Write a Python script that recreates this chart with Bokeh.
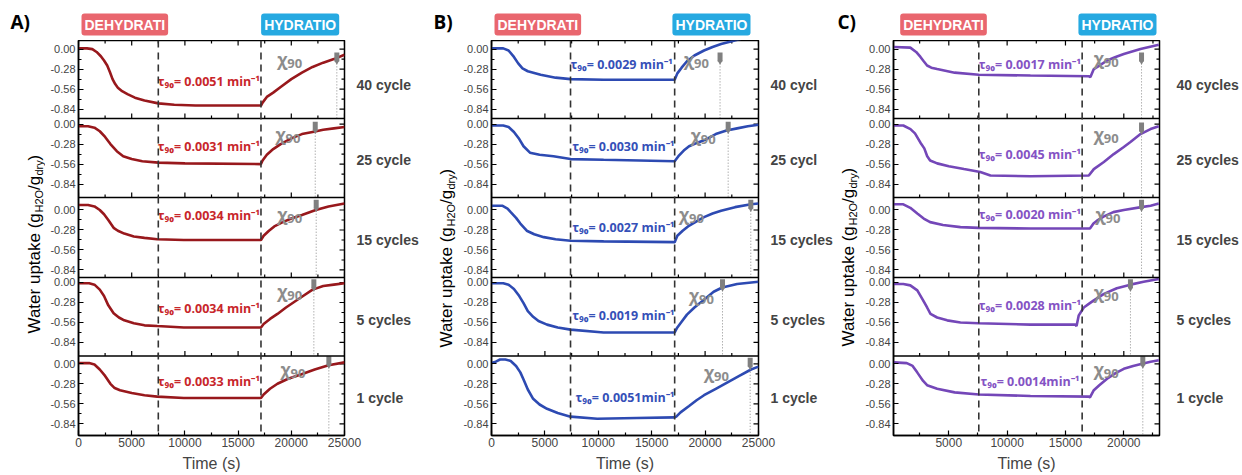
from bokeh.plotting import figure
from bokeh.layouts import row, column
from bokeh.models import Range1d, FixedTicker, LinearAxis, Span, Label
from bokeh.embed import file_html
from bokeh.resources import INLINE
from bokeh.core.properties import value

# ======================= DATA =======================
Y_TICKS = [0.00, -0.28, -0.56, -0.84]
Y_MINOR = [-0.14, -0.42, -0.70]
X_TICKS_AB = [0, 5000, 10000, 15000, 20000, 25000]
X_MINOR_AB = [2500, 7500, 12500, 17500, 22500]
X_TICKS_C = [5000, 10000, 15000, 20000]
X_MINOR_C = [2500, 7500, 12500, 17500, 22500]

CYCLES_A = ["40 cycle", "25 cycle", "15 cycles", "5 cycles", "1 cycle"]
CYCLES_B = ["40 cycl", "25 cycl", "15 cycles", "5 cycles", "1 cycle"]
CYCLES_C = ["40 cycles", "25 cycles", "15 cycles", "5 cycles", "1 cycle"]

TAU_A = ["τ₉₀= 0.0051 min⁻¹", "τ₉₀= 0.0031 min⁻¹", "τ₉₀= 0.0034 min⁻¹", "τ₉₀= 0.0034 min⁻¹", "τ₉₀= 0.0033 min⁻¹"]
TAU_B = ["τ₉₀= 0.0029 min⁻¹", "τ₉₀= 0.0030 min⁻¹", "τ₉₀= 0.0027 min⁻¹", "τ₉₀= 0.0019 min⁻¹", "τ₉₀= 0.0051min⁻¹"]
TAU_C = ["τ₉₀= 0.0017 min⁻¹", "τ₉₀= 0.0045 min⁻¹", "τ₉₀= 0.0020 min⁻¹", "τ₉₀= 0.0028 min⁻¹", "τ₉₀= 0.0014min⁻¹"]

# switch times (end of dehydration window, start of hydration), s
SWITCH_A = [7500, 17150]
SWITCH_B = [7400, 17150]
SWITCH_C = [7570, 16430]

# chi90 times (s) and uptake value at the marker tip
T90_A = [24280, 22250, 22340, 22120, 23530]
TIP_A = [-0.20, -0.12, -0.01, -0.11, -0.05]
T90_B = [21400, 22160, 24280, 21630, 24220]
TIP_B = [-0.20, -0.12, -0.01, -0.11, -0.07]
T90_C = [21520, 21520, 21520, 20570, 21630]
TIP_C = [-0.20, -0.13, -0.01, -0.11, -0.05]

# ---- Panel A curves (time s, water uptake) ----
A40_t = [0, 800, 1300, 1700, 2100, 2400, 2700, 2950, 3200, 3450, 3700, 4100, 4600, 5300, 6200, 7500, 9000, 11000, 17150,
         17300, 17700, 18300, 19000, 20000, 21000, 22000, 23000, 24000, 25000]
A40_v = [0.01, 0.01, 0.00, -0.04, -0.10, -0.16, -0.23, -0.32, -0.42, -0.49, -0.54, -0.59, -0.63, -0.68, -0.72, -0.76, -0.78, -0.79, -0.79,
         -0.75, -0.67, -0.61, -0.53, -0.42, -0.33, -0.25, -0.19, -0.14, -0.08]
A25_t = [0, 900, 1500, 2000, 2500, 3000, 3600, 4200, 5000, 6000, 7500, 10000, 17150,
         17300, 17700, 18300, 19000, 20000, 21000, 22000, 23000, 24000, 25000]
A25_v = [-0.03, -0.03, -0.05, -0.10, -0.18, -0.28, -0.38, -0.45, -0.49, -0.52, -0.54, -0.55, -0.56,
         -0.51, -0.43, -0.35, -0.28, -0.20, -0.14, -0.11, -0.08, -0.06, -0.04]
A15_t = [0, 900, 1500, 2000, 2400, 2800, 3300, 3700, 4300, 5200, 6200, 7400, 9900, 17150,
         17400, 17900, 18400, 19200, 20000, 21000, 22300, 23500, 25000]
A15_v = [0.07, 0.07, 0.05, 0.00, -0.06, -0.14, -0.25, -0.29, -0.33, -0.37, -0.39, -0.41, -0.42, -0.42,
         -0.36, -0.29, -0.23, -0.17, -0.12, -0.07, 0.00, 0.05, 0.09]
A5_t = [0, 1000, 1500, 2000, 2400, 2800, 3300, 3800, 4300, 5200, 6200, 7400, 9900, 17150,
        17400, 18000, 18700, 19500, 20300, 21000, 22000, 23000, 24000, 25000]
A5_v = [-0.01, -0.01, -0.03, -0.10, -0.19, -0.32, -0.43, -0.49, -0.53, -0.57, -0.60, -0.61, -0.63, -0.63,
        -0.58, -0.51, -0.44, -0.35, -0.27, -0.20, -0.10, -0.05, -0.03, -0.01]
A1_t = [0, 1000, 1500, 2000, 2500, 3000, 3400, 3900, 5000, 6200, 7400, 9900, 17150,
        17400, 18000, 18700, 19700, 20900, 22200, 23500, 25000]
A1_v = [0.01, 0.01, -0.01, -0.08, -0.17, -0.28, -0.34, -0.37, -0.41, -0.44, -0.46, -0.48, -0.48,
        -0.43, -0.35, -0.28, -0.21, -0.15, -0.08, -0.02, 0.02]

# ---- Panel B curves ----
B40_t = [0, 1100, 1600, 2100, 2500, 2900, 3400, 4600, 6000, 7400, 10500, 17150,
         17400, 17800, 18300, 19000, 19900, 20700, 21500, 22500, 23500, 25000]
B40_v = [0.01, 0.01, -0.02, -0.11, -0.20, -0.27, -0.31, -0.36, -0.40, -0.42, -0.43, -0.43,
         -0.34, -0.26, -0.17, -0.09, -0.02, 0.03, 0.07, 0.11, 0.15, 0.20]
B25_t = [0, 1100, 1600, 2100, 2600, 3000, 3600, 4500, 5800, 7400, 10500, 17150,
         17500, 18000, 18500, 19300, 20000, 21000, 22000, 23000, 24000, 25000]
B25_v = [-0.02, -0.02, -0.04, -0.11, -0.21, -0.31, -0.40, -0.43, -0.45, -0.49, -0.50, -0.52,
         -0.45, -0.37, -0.31, -0.26, -0.22, -0.14, -0.09, -0.06, -0.03, -0.01]
B15_t = [0, 1000, 1500, 1800, 2300, 2700, 3300, 4000, 4900, 6000, 7400, 10500, 17150,
         17400, 17900, 18400, 19200, 19900, 20700, 21500, 22800, 24300, 25000]
B15_v = [0.06, 0.06, 0.02, -0.03, -0.11, -0.19, -0.29, -0.34, -0.38, -0.41, -0.43, -0.44, -0.45,
         -0.36, -0.29, -0.23, -0.16, -0.10, -0.05, -0.01, 0.04, 0.08, 0.09]
B5_t = [0, 1100, 1600, 2100, 2600, 3000, 3400, 3900, 4400, 5200, 6200, 7400, 10500, 17150,
        17400, 17800, 18300, 19000, 19900, 20800, 21600, 23000, 25000]
B5_v = [-0.01, -0.01, -0.03, -0.09, -0.19, -0.29, -0.40, -0.48, -0.54, -0.59, -0.63, -0.66, -0.70, -0.70,
        -0.63, -0.55, -0.45, -0.35, -0.24, -0.13, -0.07, -0.02, 0.01]
B1_t = [0, 400, 800, 1300, 1800, 2300, 2700, 3000, 3400, 3900, 4500, 5200, 6200, 7400, 9900, 13600, 17150,
        17300, 17700, 18500, 19200, 19900, 21000, 22100, 23200, 24300, 25000]
B1_v = [0.01, 0.03, 0.06, 0.06, 0.04, -0.03, -0.12, -0.22, -0.36, -0.49, -0.57, -0.63, -0.69, -0.74, -0.77, -0.76, -0.75,
        -0.74, -0.68, -0.59, -0.51, -0.44, -0.35, -0.26, -0.17, -0.08, -0.04]

# ---- Panel C curves ----
C40_t = [283, 1700, 2200, 2570, 2850, 3140, 3500, 4000, 5500, 7570, 12000, 17000, 17140,
         17430, 18000, 18570, 19300, 20000, 21430, 23000]
C40_v = [0.03, 0.02, -0.04, -0.11, -0.17, -0.23, -0.26, -0.28, -0.33, -0.36, -0.37, -0.38, -0.39,
         -0.28, -0.22, -0.16, -0.11, -0.07, 0.00, 0.06]
C25_t = [283, 1100, 1714, 2100, 2571, 2900, 3150, 3400, 4000, 5000, 6300, 7700, 8570, 12000, 17000,
         17430, 18290, 19140, 20000, 20570, 21430, 22290, 23000]
C25_v = [-0.02, -0.02, -0.07, -0.13, -0.26, -0.34, -0.45, -0.51, -0.55, -0.59, -0.63, -0.67, -0.72, -0.73, -0.72,
         -0.63, -0.53, -0.42, -0.32, -0.25, -0.14, -0.07, -0.03]
C15_t = [283, 1100, 1700, 2300, 2850, 3400, 4500, 6000, 7570, 12000, 17100,
         17400, 17700, 18300, 19100, 20000, 21500, 22300, 23000]
C15_v = [0.08, 0.08, 0.03, -0.05, -0.12, -0.17, -0.21, -0.24, -0.25, -0.26, -0.26,
         -0.19, -0.15, -0.09, -0.03, 0.00, 0.04, 0.06, 0.09]
C5_t = [283, 1100, 1700, 2300, 2800, 3140, 3430, 4000, 4860, 6000, 7570, 12000, 15850, 15950,
        16140, 16570, 17000, 17430, 18300, 19400, 20570, 21700, 23000]
C5_v = [-0.02, -0.02, -0.04, -0.11, -0.25, -0.35, -0.44, -0.49, -0.53, -0.56, -0.57, -0.59, -0.59, -0.61,
        -0.46, -0.35, -0.30, -0.25, -0.16, -0.08, -0.03, 0.01, 0.05]
C1_t = [283, 1400, 1900, 2290, 2800, 3140, 4000, 5500, 7570, 12000, 17000, 17100,
        17430, 17900, 18570, 19300, 20000, 20800, 21570, 22300, 23000]
C1_v = [0.02, 0.01, -0.03, -0.12, -0.24, -0.30, -0.35, -0.40, -0.43, -0.45, -0.46, -0.47,
        -0.37, -0.30, -0.21, -0.13, -0.07, -0.03, 0.00, 0.03, 0.05]

# ======================= LAYOUT (page pixels) =======================
PAGE_H = 475
FRAME_TOP_PX, FRAME_BOT_PX = 40.0, 435.0
BOTTOM_BORDER = 40
LEFT_BORDER = 33
PX_PER_UNIT = 71.4
ROW_ZERO_PX = [48.6, 123.6, 209.5, 282.0, 363.3]
ROW_EDGE_PX = [118.0, 197.0, 277.0, 355.5]
ROW_LABEL_Y_PX = [84.3, 159.3, 240.0, 319.0, 397.7]


def ydat(px):
    return (FRAME_BOT_PX - px) / PX_PER_UNIT


def ystrip(px):
    return PAGE_H - px


PXU = 1.0 / PX_PER_UNIT
Y_TOP = ydat(FRAME_TOP_PX)
ROW_BASE = [ydat(z) for z in ROW_ZERO_PX]
ROW_BOTTOM = [ydat(e) for e in ROW_EDGE_PX] + [0.0]

SANS = "Liberation Sans"
CAL = "Open Sans"

PANELS = [
    dict(letter="A)", strip=(0, 45), frame=(78, 344), right=78, xr=(0, 25000), xt=X_TICKS_AB, xm=X_MINOR_AB,
         curves=[(A40_t, A40_v), (A25_t, A25_v), (A15_t, A15_v), (A5_t, A5_v), (A1_t, A1_v)],
         line="#98181c", txt="#c8262b", tau=TAU_A, cyc=CYCLES_A, cyc_off=12, sw=SWITCH_A, t90=T90_A, tip=TIP_A,
         tau_x=[7450] * 5, tau_v=[-0.46, -0.32, -0.08, -0.37, -0.25],
         chi_x=[18680, 18520, 18680, 18680, 18990], chi_v=[-0.11, -0.11, -0.02, -0.09, -0.04],
         deh=78, hyd=341.7, letter_x=10, ylab=(33.5, 333)),
    dict(letter="B)", strip=(422, 458), frame=(491, 758), right=78, xr=(0, 25000), xt=X_TICKS_AB, xm=X_MINOR_AB,
         curves=[(B40_t, B40_v), (B25_t, B25_v), (B15_t, B15_v), (B5_t, B5_v), (B1_t, B1_v)],
         line="#2d4ab2", txt="#3550b8", tau=TAU_B, cyc=CYCLES_B, cyc_off=12, sw=SWITCH_B, t90=T90_B, tip=TIP_B,
         tau_x=[7400, 7560, 7560, 7560, 7875], tau_v=[-0.22, -0.31, -0.25, -0.46, -0.47],
         chi_x=[18030, 18660, 17560, 18500, 19900], chi_v=[-0.11, -0.13, -0.03, -0.14, -0.08],
         deh=491, hyd=753, letter_x=433, ylab=(446, 347)),
    dict(letter="C)", strip=(836, 860), frame=(893, 1159), right=82, xr=(260, 23060), xt=X_TICKS_C, xm=X_MINOR_C,
         curves=[(C40_t, C40_v), (C25_t, C25_v), (C15_t, C15_v), (C5_t, C5_v), (C1_t, C1_v)],
         line="#7447b8", txt="#8453c4", tau=TAU_C, cyc=CYCLES_C, cyc_off=17, sw=SWITCH_C, t90=T90_C, tip=TIP_C,
         tau_x=[7571, 7571, 7571, 7571, 7714], tau_v=[-0.21, -0.43, -0.07, -0.32, -0.25],
         chi_x=[17430, 17430, 17570, 17430, 17430], chi_v=[-0.10, -0.11, -0.03, -0.10, -0.05],
         deh=896.7, hyd=1159, letter_x=837, ylab=(848, 346)),
]


def bare_fig(w, h, xr, yr, left=0, right=0):
    p = figure(width=int(w), height=int(h), x_range=Range1d(*xr), y_range=Range1d(*yr),
               min_border_left=int(left), min_border_right=int(right), min_border_top=0, min_border_bottom=0,
               x_axis_location=None, y_axis_location=None, output_backend="svg",
               toolbar_location=None, tools="")
    p.grid.visible = False
    p.outline_line_color = None
    p.background_fill_color = "white"
    p.border_fill_color = "white"
    return p


def style_axis(ax):
    ax.major_tick_in = 5
    ax.major_tick_out = 0
    ax.minor_tick_in = 3
    ax.minor_tick_out = 0
    ax.axis_line_width = 1.5
    ax.axis_line_color = "black"
    ax.major_tick_line_width = 1.2
    ax.minor_tick_line_width = 1.2
    ax.major_tick_line_color = "black"
    ax.minor_tick_line_color = "black"


def make_main(P):
    fl, fr = P["frame"]
    x0, x1 = P["xr"]
    xpu = (x1 - x0) / (fr - fl)

    p = figure(frame_width=int(fr - fl), frame_height=int(FRAME_BOT_PX - FRAME_TOP_PX),
               x_range=Range1d(x0, x1), y_range=Range1d(0, Y_TOP),
               min_border_left=LEFT_BORDER, min_border_right=int(P["right"]),
               min_border_top=0, min_border_bottom=BOTTOM_BORDER,
               output_backend="svg", toolbar_location=None, tools="")
    p.grid.visible = False
    p.outline_line_color = "black"
    p.outline_line_width = 1.5
    p.background_fill_color = "white"
    p.border_fill_color = "white"

    # y axis ticks for every row
    yt, ym, ylab = [], [], {}
    for r in range(5):
        for v in Y_TICKS:
            k = round(ROW_BASE[r] + v, 4)
            yt.append(k)
            ylab[k] = f"{v:.2f}"
        for v in Y_MINOR:
            ym.append(round(ROW_BASE[r] + v, 4))
    ay = p.yaxis[0]
    ay.ticker = FixedTicker(ticks=yt, minor_ticks=ym)
    ay.major_label_overrides = ylab
    ay.major_label_text_font = SANS
    ay.major_label_text_font_size = "11px"
    ay.major_label_standoff = 3
    style_axis(ay)

    ax = p.xaxis[0]
    ax.ticker = FixedTicker(ticks=P["xt"], minor_ticks=P["xm"])
    ax.major_label_text_font = SANS
    ax.major_label_text_font_size = "12px"
    ax.major_label_standoff = 2
    ax.axis_label = "Time (s)"
    ax.axis_label_text_font = SANS
    ax.axis_label_text_font_size = "16px"
    ax.axis_label_text_font_style = "normal"
    ax.axis_label_standoff = 5
    style_axis(ax)

    # row names as a right-hand axis
    ry = [round(ydat(v), 4) for v in ROW_LABEL_Y_PX]
    rax = LinearAxis(ticker=FixedTicker(ticks=ry, minor_ticks=[]),
                     major_label_overrides={k: n for k, n in zip(ry, P["cyc"])},
                     major_label_text_font=SANS, major_label_text_font_style="bold",
                     major_label_text_font_size="14px", major_label_standoff=P["cyc_off"],
                     major_tick_in=0, major_tick_out=0, minor_tick_in=0, minor_tick_out=0,
                     axis_line_color=None)
    p.add_layout(rax, "right")

    # inward ticks on the right edge, the top edge and every row boundary
    tx0, ty0, tx1, ty1 = [], [], [], []
    for k in yt:
        tx0.append(x1); ty0.append(k); tx1.append(x1 - 5 * xpu); ty1.append(k)
    for k in ym:
        tx0.append(x1); ty0.append(k); tx1.append(x1 - 3 * xpu); ty1.append(k)
    for t in P["xt"]:
        tx0.append(t); ty0.append(Y_TOP); tx1.append(t); ty1.append(Y_TOP - 5 * PXU)
    for t in P["xm"]:
        tx0.append(t); ty0.append(Y_TOP); tx1.append(t); ty1.append(Y_TOP - 3 * PXU)
    for e in ROW_BOTTOM[:4]:
        p.add_layout(Span(location=e, dimension="width", line_color="black", line_width=1.5))
        for t in P["xt"]:
            tx0.append(t); ty0.append(e); tx1.append(t); ty1.append(e + 5 * PXU)
        for t in P["xm"]:
            tx0.append(t); ty0.append(e); tx1.append(t); ty1.append(e + 3 * PXU)
    p.segment(x0=tx0, y0=ty0, x1=tx1, y1=ty1, line_color="black", line_width=1.2)

    # phase switch lines
    for s in P["sw"]:
        p.add_layout(Span(location=s, dimension="height", line_color="#333333",
                          line_width=1.6, line_dash="7 5"))

    # curves
    for r, (tt, vv) in enumerate(P["curves"]):
        p.line(tt, [ROW_BASE[r] + v for v in vv], line_color=P["line"], line_width=2.6)

    # chi90 markers and dotted guides
    tips = [ROW_BASE[r] + P["tip"][r] for r in range(5)]
    p.segment(x0=P["t90"], y0=tips, x1=P["t90"], y1=ROW_BOTTOM, line_color="#8a8a8a",
              line_width=1, line_dash="1 2")
    p.rect(x=P["t90"], y=[t + 6.5 * PXU for t in tips], width=5, height=9,
           width_units="screen", height_units="screen", fill_color="#808080", line_color=None)
    p.scatter(x=P["t90"], y=[t + 1.5 * PXU for t in tips], marker="inverted_triangle", size=5,
              fill_color="#808080", line_color=None)

    # texts inside the frame
    cy = [ROW_BASE[r] + P["chi_v"][r] for r in range(5)]
    p.text(x=P["chi_x"], y=cy, text=["χ"] * 5, y_offset=2.6, text_font=value(CAL), text_font_style="bold",
           text_font_size="17px", text_color="#8c8c8c", text_baseline="alphabetic", text_align="left")
    p.text(x=P["chi_x"], y=cy, text=["90"] * 5, x_offset=10, y_offset=6.6, text_font=value(CAL),
           text_font_style="bold", text_font_size="13px", text_color="#8c8c8c",
           text_baseline="alphabetic", text_align="left")
    p.text(x=P["tau_x"], y=[ROW_BASE[r] + P["tau_v"][r] for r in range(5)], text=P["tau"],
           text_font=value(CAL), text_font_style="bold", text_font_size="12.5px",
           text_color=P["txt"], text_baseline="middle", text_align="left")
    return p


def make_header(P, width):
    fl, fr = P["frame"]
    x0, x1 = P["xr"]

    def xdat(px):
        return x0 + (px - fl) / (fr - fl) * (x1 - x0)

    h = bare_fig(width, FRAME_TOP_PX, (x0, x1), (ystrip(FRAME_TOP_PX), PAGE_H),
                 left=LEFT_BORDER, right=P["right"])
    h.add_layout(Label(x=xdat(P["deh"] + 3), y=ystrip(24), text="DEHYDRATI", text_font=SANS,
                       text_font_style="bold", text_font_size="14px", text_color="white",
                       text_baseline="middle", text_align="left", background_fill_color="#e9666e",
                       padding=3, border_radius=3))
    h.add_layout(Label(x=xdat(P["hyd"] - 3), y=ystrip(24), text="HYDRATIO", text_font=SANS,
                       text_font_style="bold", text_font_size="14px", text_color="white",
                       text_baseline="middle", text_align="right", background_fill_color="#26a9e1",
                       padding=3, border_radius=3))
    return h


def make_strip(P):
    a, b = P["strip"]
    s = bare_fig(b - a, PAGE_H, (a, b), (0, PAGE_H))
    s.add_layout(Label(x=P["letter_x"], y=ystrip(21), text=P["letter"], text_font=CAL,
                       text_font_style="bold", text_font_size="19px", text_color="black",
                       text_baseline="middle", text_align="left"))
    cx, by = P["ylab"]
    pieces = [("Water uptake (g", 0, "17px", 0), ("H2O", 121, "11px", 4.5), ("/g", 143.5, "17px", 0),
              ("dry", 158, "11px", 4.5), (")", 173, "17px", 0)]
    for txt, off, fs, dx in pieces:
        s.add_layout(Label(x=cx + dx, y=ystrip(by - off), text=txt, angle=90, angle_units="deg",
                           text_font=SANS, text_font_size=fs, text_color="black",
                           text_baseline="middle", text_align="left"))
    return s


children = []
for P in PANELS:
    fl, fr = P["frame"]
    main_w = LEFT_BORDER + (fr - fl) + P["right"]
    children.append(make_strip(P))
    children.append(column(make_header(P, main_w), make_main(P), spacing=0))

layout = row(*children, spacing=0)
open("out.html", "w").write(file_html(layout, INLINE))
